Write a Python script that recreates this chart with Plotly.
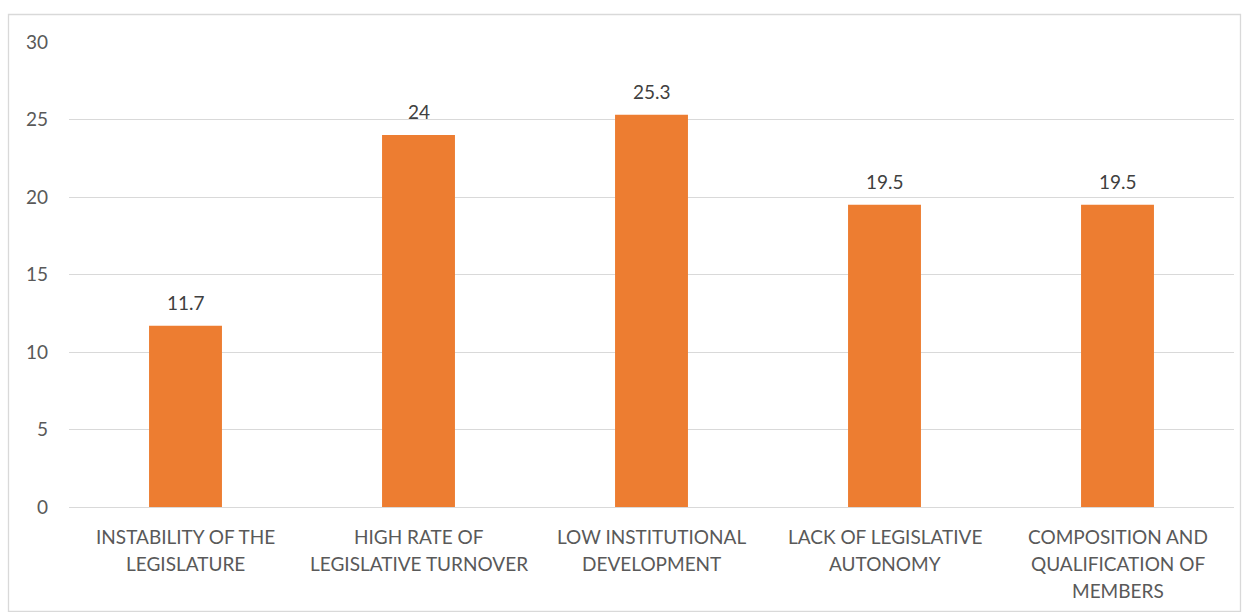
import plotly.graph_objects as go

categories = [
    "INSTABILITY OF THE<br>LEGISLATURE",
    "HIGH RATE OF<br>LEGISLATIVE TURNOVER",
    "LOW INSTITUTIONAL<br>DEVELOPMENT",
    "LACK OF LEGISLATIVE<br>AUTONOMY",
    "COMPOSITION AND<br>QUALIFICATION OF<br>MEMBERS",
]
values = [11.7, 24, 25.3, 19.5, 19.5]
value_labels = ["11.7", "24", "25.3", "19.5", "19.5"]
y_ticks = [0, 5, 10, 15, 20, 25, 30]

W, H = 1248, 612
ML, MR, MT, MB = 69, 14, 42, 105
pw = W - ML - MR
ph = H - MT - MB

FONT = "Lato"
TXT = "#595959"

fig = go.Figure()
fig.add_trace(go.Bar(
    x=categories, y=values,
    marker=dict(color="#ED7D31", line=dict(width=0)),
    width=0.313,
    hoverinfo="skip",
))

for c, v, t in zip(categories, values, value_labels):
    fig.add_annotation(
        x=c, y=v, text=t, showarrow=False, yanchor="bottom",
        yshift=10, font=dict(family=FONT, size=19, color="#404040"),
    )

# category labels, one annotation per line for Excel-like line spacing
for c in categories:
    for i, line in enumerate(c.split("<br>")):
        fig.add_annotation(
            x=c, y=0, text=line, showarrow=False, yanchor="middle",
            yshift=-(29 + i * 27.3), font=dict(family=FONT, size=19, color=TXT),
        )

# outer chart border
fig.add_shape(
    type="rect", xref="paper", yref="paper",
    x0=(8.5 - ML) / pw, x1=(1240.5 - ML) / pw,
    y0=(H - 611.5 - MB) / ph, y1=(H - 14.5 - MB) / ph,
    line=dict(color="#D9D9D9", width=1.3), fillcolor="rgba(0,0,0,0)",
    layer="below",
)

fig.update_layout(
    width=W, height=H,
    margin=dict(l=ML, r=MR, t=MT, b=MB, pad=0),
    paper_bgcolor="white", plot_bgcolor="white",
    showlegend=False,
    font=dict(family=FONT, size=19, color=TXT),
    xaxis=dict(
        showgrid=False, showline=True, linecolor="#D9D9D9", linewidth=1.3,
        ticks="", showticklabels=False, fixedrange=True,
    ),
    yaxis=dict(
        range=[0, 30], tickvals=y_ticks, showgrid=True,
        gridcolor="#D9D9D9", gridwidth=1.3, zeroline=False,
        showline=False, ticks="",
        tickfont=dict(family=FONT, size=19, color=TXT),
        ticklabelstandoff=20, fixedrange=True,
    ),
)

fig.write_html("out.html")
